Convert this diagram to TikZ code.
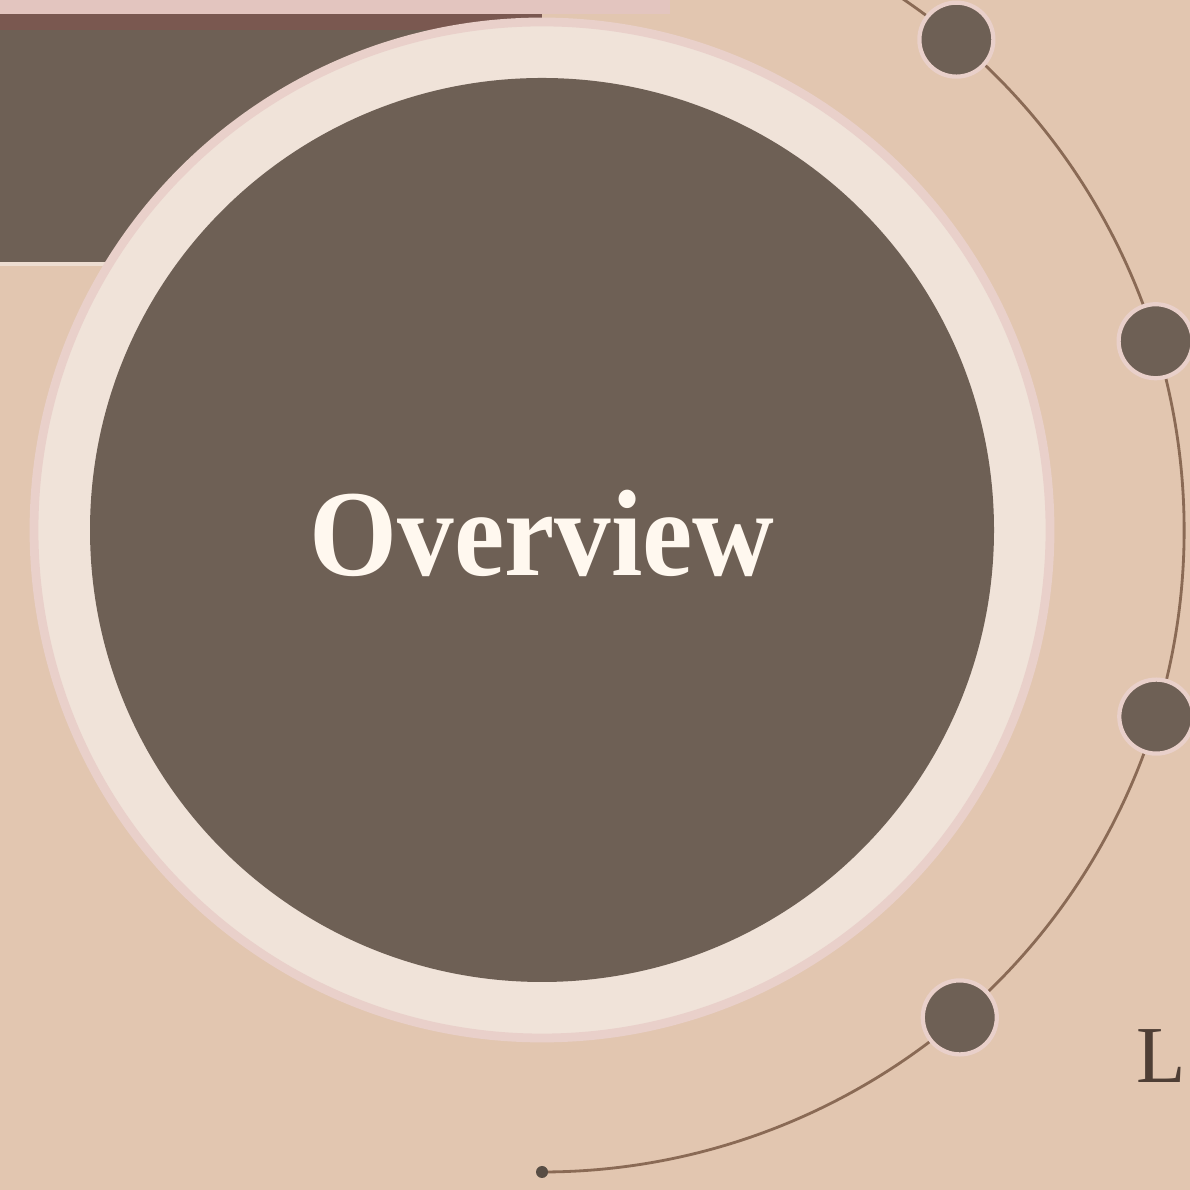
\documentclass[tikz,border=0pt]{standalone}
\usepackage{fontspec}
\setmainfont{Liberation Serif}
\usetikzlibrary{positioning, calc}

\definecolor{sand}{HTML}{E2C6B0}
\definecolor{blush}{HTML}{E3C5BF}
\definecolor{cocoa}{HTML}{6E6055}
\definecolor{cocoaedge}{HTML}{7A5850}
\definecolor{cream}{HTML}{F0E3D9}
\definecolor{halo}{HTML}{E9D0CA}
\definecolor{twig}{HTML}{8A6A55}
\definecolor{ink}{HTML}{4E3E35}
\definecolor{snow}{HTML}{FFF8EF}

\begin{document}
\begin{tikzpicture}[
    ring/.style={circle, fill=cream, draw=halo, line width=2.5pt, minimum size=10.16cm, inner sep=0pt},
    core/.style={circle, fill=cocoa, minimum size=9.04cm, inner sep=0pt},
    bead/.style={circle, fill=cocoa, draw=halo, line width=1.2pt, minimum size=0.74cm, inner sep=0pt},
    tip/.style={circle, fill=cocoa!80!black, minimum size=0.12cm, inner sep=0pt},
    track/.style={twig, line width=0.8pt},
    title/.style={text=snow, font=\fontsize{35}{40}\selectfont\bfseries, xscale=0.92}
]
    % --- canvas ---
    \fill[sand] (0,0) rectangle (11.9,11.9);
    \useasboundingbox (0,0) rectangle (11.9,11.9);
    \clip (0,0) rectangle (11.9,11.9);
    \fill[blush] (0,11.76) rectangle (6.7,11.9);

    % --- header band behind the disc ---
    \fill[cocoa] (0,9.27) rectangle (5.42,11.76);
    \fill[cocoaedge] (0,11.6) rectangle (5.42,11.76);
    \fill[cream!80!sand] (0,9.24) rectangle (5.42,9.28);

    % --- central disc ---
    \coordinate (hub) at (5.42,6.60);
    \node[ring] (outer) at (hub) {};
    \node[core] (inner) at (hub) {};
    \node[title] (label) at (5.42,6.57) {Overview};

    % --- orbit with beads ---
    \draw[track] (hub) ++(62:6.42) arc[start angle=62, end angle=-90, radius=6.42];
    \foreach \ang/\nm in {49.8/b1, 17.1/b2, -16.9/b3, -49.4/b4}
        \node[bead] (\nm) at ($(hub)+(\ang:6.42)$) {};
    \node[tip] (end) at ($(hub)+(-90:6.42)$) {};

    % --- cut-off caption ---
    \node[anchor=base west, text=ink, font=\fontsize{23}{27}\selectfont, inner sep=0pt] (cap) at (11.36,1.07) {L};
\end{tikzpicture}
\end{document}
